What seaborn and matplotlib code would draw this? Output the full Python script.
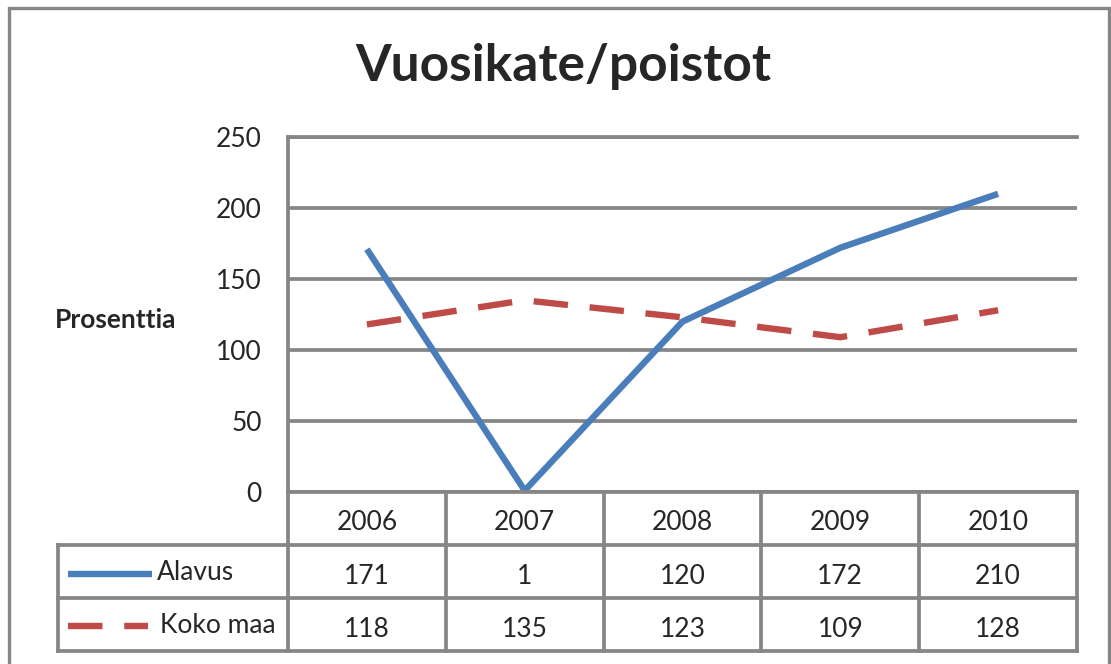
import pandas as pd
import matplotlib.pyplot as plt
from matplotlib.patches import Rectangle
import seaborn as sns

# ── Data ──────────────────────────────────────────────────────────────────────
years = [2006, 2007, 2008, 2009, 2010]
alavus = [171, 1, 120, 172, 210]
koko_maa = [118, 135, 123, 109, 128]
series_names = ["Alavus", "Koko maa"]
y_ticks = [0, 50, 100, 150, 200, 250]

df = pd.DataFrame({
    "year": years * 2,
    "value": alavus + koko_maa,
    "series": [series_names[0]] * len(years) + [series_names[1]] * len(years),
})

# ── Style ─────────────────────────────────────────────────────────────────────
sns.set_style("white")
plt.rcParams["font.family"] = ["Lato", "DejaVu Sans"]

GRID = "#868686"
BLUE = "#4A7EBB"
RED = "#BE4B48"
W, H = 1111, 664
LW_GRID = 2.7
LW_DATA = 4.6
DASH = (5.4, 3.4)
FS = 19

fig = plt.figure(figsize=(W / 100, H / 100), dpi=100)


def box(x0, y0, x1, y1):
    # pixel box (top-left origin) -> figure fraction rect
    return [x0 / W, 1 - y1 / H, (x1 - x0) / W, (y1 - y0) / H]


# outer chart border
fig.patches.append(Rectangle((9 / W, -0.02), (1109 - 9) / W, 1.02 - 8 / H,
                             transform=fig.transFigure, fill=False,
                             edgecolor=GRID, linewidth=2.4))

# ── Main plot ─────────────────────────────────────────────────────────────────
ax = fig.add_axes(box(288, 137, 1077, 492))
sns.lineplot(data=df, x="year", y="value", hue="series", style="series",
             palette={"Alavus": BLUE, "Koko maa": RED},
             dashes={"Alavus": "", "Koko maa": DASH},
             linewidth=LW_DATA, legend=False, ax=ax)
ax.set_xlim(years[0] - 0.5, years[-1] + 0.5)
ax.set_ylim(0, 250)
ax.set_yticks(y_ticks)
ax.set_xticks([])
ax.yaxis.grid(True, color=GRID, linewidth=LW_GRID)
ax.tick_params(axis="y", length=0, pad=19, labelsize=FS)
for s in ["left", "top", "bottom"]:
    ax.spines[s].set_visible(True)
    ax.spines[s].set_color(GRID)
    ax.spines[s].set_linewidth(LW_GRID)
ax.spines["right"].set_visible(False)
ax.set_xlabel("")
ax.set_ylabel("")
for ln in ax.lines:
    ln.set_dash_capstyle("butt")
    ln.set_solid_capstyle("butt")

fig.text(116 / W, 1 - 320 / H, "Prosenttia", fontsize=19, fontweight="bold",
         ha="center", va="center")
fig.text(563 / W, 1 - 67 / H, "Vuosikate/poistot", fontsize=37,
         fontweight="bold", ha="center", va="center")

# ── Data table ────────────────────────────────────────────────────────────────
px_per_unit = (1077 - 288) / len(years)
tleft = years[0] - 0.5 - (288 - 58) / px_per_unit
tax = fig.add_axes(box(58, 492, 1077, 651))
tax.set_xlim(tleft, years[-1] + 0.5)
tax.set_ylim(3, 0)
tax.axis("off")

kw = dict(color=GRID, linewidth=LW_GRID, solid_capstyle="projecting",
          clip_on=False)
# column borders
for i in range(len(years) + 1):
    xb = years[0] - 0.5 + i
    tax.plot([xb, xb], [0, 3], **kw)
tax.plot([tleft, tleft], [1, 3], **kw)
for yb in [1, 2, 3]:
    tax.plot([tleft, years[-1] + 0.5], [yb, yb], **kw)

for x, a, k in zip(years, alavus, koko_maa):
    tax.text(x, 0.58, str(x), ha="center", va="center", fontsize=FS)
    tax.text(x, 1.6, str(a), ha="center", va="center", fontsize=FS)
    tax.text(x, 2.6, str(k), ha="center", va="center", fontsize=FS)


def ux(px):
    return tleft + (px - 58) / px_per_unit


tax.plot([ux(68), ux(152)], [1.55, 1.55], color=BLUE, linewidth=LW_DATA,
         solid_capstyle="butt")
tax.plot([ux(68), ux(148)], [2.53, 2.53], color=RED, linewidth=LW_DATA,
         dashes=DASH, dash_capstyle="butt")
tax.text(ux(157), 1.52, series_names[0], ha="left", va="center", fontsize=FS)
tax.text(ux(160), 2.52, series_names[1], ha="left", va="center", fontsize=FS)

fig.savefig("out.png", dpi=100)
